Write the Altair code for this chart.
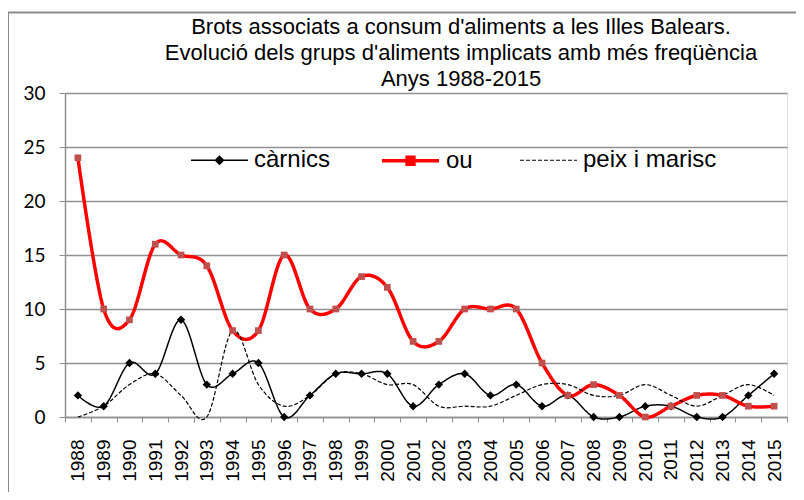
import altair as alt
import pandas as pd

years = [str(y) for y in range(1988, 2016)]
carnics = [2, 1, 5, 4, 9, 3, 4, 5, 0, 2, 4, 4, 4, 1, 3, 4, 2, 3, 1, 2, 0, 0, 1, 1, 0, 0, 2, 4]
ou = [24, 10, 9, 16, 15, 14, 8, 8, 15, 10, 10, 13, 12, 7, 7, 10, 10, 10, 5, 2, 3, 2, 0, 1, 2, 2, 1, 1]
peix = [0, 1, 3, 4, 2, 0, 8, 3, 1, 2, 4, 4, 3, 3, 1, 1, 1, 2, 3, 3, 2, 2, 3, 2, 1, 2, 3, 2]
series = ["càrnics", "ou", "peix i marisc"]
title_lines = ["Brots associats a consum d'aliments a les Illes Balears.",
               "Evolució dels grups d'aliments implicats amb més freqüència",
               "Anys 1988-2015"]

rows = []
for name, vals in zip(series, [carnics, ou, peix]):
    for y, v in zip(years, vals):
        rows.append({"any": y, "v": v, "serie": name})
df = pd.DataFrame(rows)

W, H = 722, 324
GRAY = "#8f8f8f"

xenc = alt.X("any:O", sort=years,
             scale=alt.Scale(type="band", domain=years, paddingInner=0, paddingOuter=0),
             axis=alt.Axis(title=None, labelAngle=270, labelFont="Liberation Sans",
                           labelFontSize=19, labelColor="black", labelPadding=17,
                           tickBand="extent", tickSize=5, tickColor=GRAY, domainColor=GRAY,
                           domainWidth=1.5, grid=False))
yenc = alt.Y("v:Q", scale=alt.Scale(domain=[0, 30], nice=False),
             axis=alt.Axis(title=None, values=[0, 5, 10, 15, 20, 25, 30], labelFont="Lato",
                           labelFontSize=19, labelColor="black", labelPadding=14,
                           tickSize=6, tickColor=GRAY, domainColor=GRAY, domainWidth=1.5,
                           grid=True, gridColor=GRAY, gridWidth=1.5))

DASH = [[1, 0], [1, 0], [4, 2]]
WIDTHS = [1.5, 3.5, 1.2]

base = alt.Chart(df)

lines = base.mark_line(interpolate="cardinal").encode(
    x=xenc, y=yenc,
    color=alt.Color("serie:N", scale=alt.Scale(domain=series, range=["black", "#ff0000", "black"]), legend=None),
    strokeDash=alt.StrokeDash("serie:N", scale=alt.Scale(domain=series, range=DASH), legend=None),
    strokeWidth=alt.StrokeWidth("serie:N", scale=alt.Scale(type="ordinal", domain=series, range=WIDTHS), legend=None),
)

points = base.transform_filter(alt.datum.serie != "peix i marisc").mark_point(filled=True, opacity=1).encode(
    x=xenc, y=yenc,
    fill=alt.Fill("serie:N", scale=alt.Scale(domain=series[:2], range=["black", "#c0504d"]), legend=None),
    shape=alt.Shape("serie:N", scale=alt.Scale(domain=series[:2], range=["diamond", "square"]), legend=None),
    size=alt.Size("serie:N", scale=alt.Scale(type="ordinal", domain=series[:2], range=[70, 45]), legend=None),
)

leg = alt.Legend(orient="none", legendX=125, legendY=37, direction="horizontal", title=None,
                 labelFont="Liberation Sans", labelFontSize=24, labelColor="black",
                 symbolSize=3249, columnPadding=44, labelOffset=5, symbolOpacity=1)

paths = ["M-1,0H1M0,-0.14L0.14,0L0,0.14L-0.14,0Z",
         "M-1,0H1M-0.12,-0.12H0.12V0.12H-0.12Z",
         "M-1,0H1"]

legend_layer = base.transform_filter(alt.datum.v < -100).mark_point(filled=True, opacity=1).encode(
    x=xenc, y=yenc,
    shape=alt.Shape("serie:N", scale=alt.Scale(domain=series, range=paths), legend=leg),
    fill=alt.Fill("serie:N", scale=alt.Scale(domain=series, range=["black", "#c0504d", "transparent"]), legend=leg),
    stroke=alt.Stroke("serie:N", scale=alt.Scale(domain=series, range=["black", "#ff0000", "black"]), legend=leg),
    strokeDash=alt.StrokeDash("serie:N", scale=alt.Scale(domain=series, range=DASH), legend=leg),
    strokeWidth=alt.StrokeWidth("serie:N", scale=alt.Scale(type="ordinal", domain=series, range=WIDTHS), legend=leg),
)

one = pd.DataFrame({"a": [0]})
border_left = alt.Chart(one).mark_rule(stroke="#8a8a8a", strokeWidth=2).encode(
    x=alt.value(-57), y=alt.value(-80.5), y2=alt.value(H + 100)
)
border_top = alt.Chart(one).mark_rule(stroke="#8a8a8a", strokeWidth=2).encode(
    x=alt.value(-57), x2=alt.value(W + 30), y=alt.value(-80.5)
)

chart = alt.layer(border_left, border_top, lines, points, legend_layer).resolve_scale(
    color="independent", fill="independent", shape="independent", stroke="independent",
    strokeDash="independent", strokeWidth="independent", size="independent"
).properties(
    width=W, height=H,
    title=alt.Title(title_lines, font="Liberation Sans", fontSize=22, fontWeight="normal",
                    color="black", anchor="middle", frame="group", dx=35, dy=85,
                    lineHeight=26, offset=6),
    autosize=alt.AutoSizeParams(type="none"),
    padding={"left": 57, "top": 85, "right": 9, "bottom": 75},
).configure_view(stroke=None).configure(background="white")

chart.save("out.html", embed_options={"renderer": "svg", "actions": False})
